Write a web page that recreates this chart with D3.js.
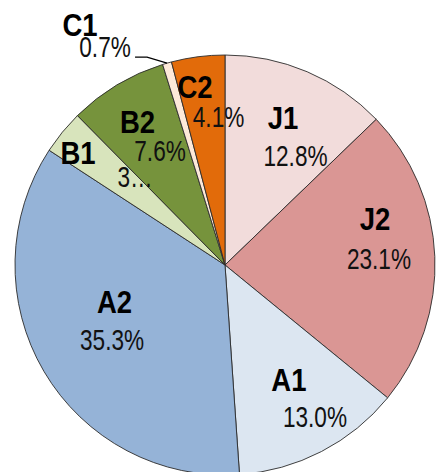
<!DOCTYPE html>
<html>
<head>
<meta charset="utf-8">
<script src="https://cdn.jsdelivr.net/npm/d3@7"></script>
<style>
  html, body { margin: 0; padding: 0; background: #fff; }
  svg { display: block; }
</style>
</head>
<body>
<svg id="chart" width="443" height="472"></svg>
<script>
// ---- data ----
const categories = ["J1", "J2", "A1", "A2", "B1", "B2", "C1", "C2"];
const values = [12.8, 23.1, 13.0, 35.3, 3.4, 7.6, 0.7, 4.1];
const colors = ["#F2DCDB", "#DA9694", "#DCE6F1", "#95B3D7", "#D8E4BC", "#76933C", "#FDE9D9", "#E26B0A"];
const truncatedLabels = ["B1"];   // percent label shown truncated ("3…")
const outsideLabels = ["C1"];     // label drawn outside with a leader line

// ---- layout (label nudges relative to slice anchor) ----
// [nameDx, nameDy, pctDx, pctDy]
const labelNudge = {
  J1: [-0.7, -9.5, 11.8, 28.5],
  J2: [0.1, -40.4, 4.1, 0.1],
  A1: [-5, -18.7, 21, 18.3],
  A2: [18.9, -39.4, 16.4, -1.9],
  B1: [-30.8, -18.1, 26.2, 5.9],
  B2: [-10.3, -14.9, 12.2, 14.1],
  C2: [-10.7, -29.7, 12.8, -0.2],
  C1: [-87, -38.5, -62, -17]
};

const W = 443, H = 472;
const cx = 225, cy = 265, R = 210, labelR = 150;

const svg = d3.select("#chart");
const g = svg.append("g").attr("transform", `translate(${cx},${cy})`);

const data = categories.map((c, i) => ({ name: c, value: values[i], color: colors[i] }));

const pie = d3.pie().sort(null).value(d => d.value);
const arcs = pie(data);
const arc = d3.arc().innerRadius(0).outerRadius(R);
const labelArc = d3.arc().innerRadius(labelR).outerRadius(labelR);
const edgeArc = d3.arc().innerRadius(R).outerRadius(R);

g.selectAll("path.slice")
  .data(arcs)
  .enter().append("path")
  .attr("class", "slice")
  .attr("d", arc)
  .attr("fill", d => d.data.color)
  .attr("stroke", "#2b2b2b")
  .attr("stroke-width", 0.9)
  .attr("stroke-linejoin", "round");

const FONT = "'Liberation Sans', Arial, sans-serif";
const nameSize = 32, pctSize = 29;
const nameScale = 0.86, pctScale = 0.78;
const nameCap = 11.5, pctCap = 10.5;

const fmt = v => v.toFixed(1) + "%";

arcs.forEach(a => {
  const nm = a.data.name;
  const nudge = labelNudge[nm];
  const isOut = outsideLabels.includes(nm);
  const [ax, ay] = isOut ? edgeArc.centroid(a) : labelArc.centroid(a);
  let pctText = fmt(a.data.value);
  if (truncatedLabels.includes(nm)) pctText = pctText.charAt(0) + "…";

  g.append("text")
    .attr("transform", `translate(${ax + nudge[0]},${ay + nudge[1] + nameCap}) scale(${nameScale},1)`)
    .attr("text-anchor", "middle")
    .attr("font-family", FONT)
    .attr("font-weight", "bold")
    .attr("font-size", nameSize)
    .attr("fill", "#000")
    .text(nm);

  g.append("text")
    .attr("transform", `translate(${ax + nudge[2]},${ay + nudge[3] + pctCap}) scale(${pctScale},1)`)
    .attr("text-anchor", "middle")
    .attr("font-family", FONT)
    .attr("font-size", pctSize)
    .attr("fill", "#111")
    .text(pctText);

  if (isOut) {
    const pts = [[ax - 32, ay - 6], [ax - 20, ay - 6], [ax, ay]];
    g.append("path")
      .attr("d", d3.line()(pts))
      .attr("fill", "none")
      .attr("stroke", "#000")
      .attr("stroke-width", 1.2);
  }
});
</script>
</body>
</html>
